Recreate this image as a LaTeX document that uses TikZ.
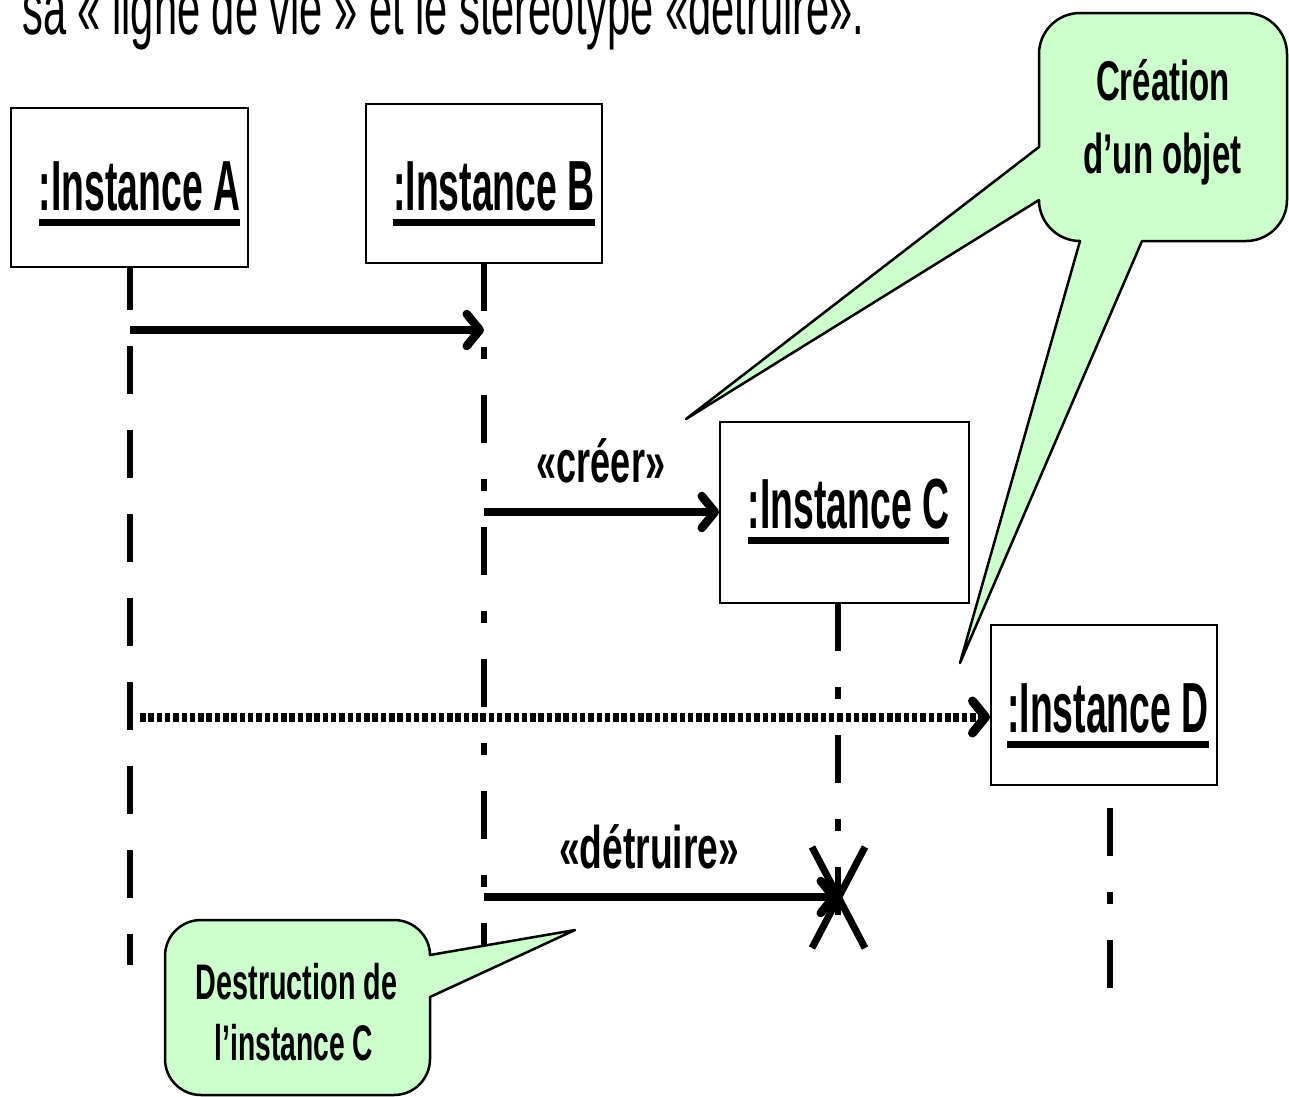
\documentclass[tikz,border=0pt]{standalone}
\usepackage{fontspec}
\setmainfont{Liberation Sans}
\usetikzlibrary{arrows.meta}
\definecolor{callg}{RGB}{204,255,204}
\newcommand\sx[2]{\scalebox{#1}[1]{#2}}
\begin{document}
\begin{tikzpicture}[x=1bp,y=-1bp,
  box/.style={draw, line width=2bp, fill=white, inner sep=0},
  lbl/.style={inner sep=0, anchor=base},
  big/.style={font=\bfseries\fontsize{71bp}{80bp}\selectfont},
  mid/.style={font=\bfseries\fontsize{60bp}{68bp}\selectfont},
  life/.style={line width=6.5bp, dash pattern=on 48bp off 36bp},
  lifedot/.style={line width=6.5bp, dash pattern=on 48bp off 36bp on 12bp off 36bp},
  msg/.style={line width=8.5bp, -{Straight Barb[length=13bp,width=32bp,round]}},
  dotmsg/.style={line width=9bp, dash pattern=on 5.5bp off 2.8bp, -{Straight Barb[length=13bp,width=32bp,round]}},
  ul/.style={line width=7bp},
  callout/.style={draw, line width=2.5bp, fill=callg, line join=round}]
\clip (0,0) rectangle (1289,1097);
\fill[white] (0,0) rectangle (1289,1097);

% title (cut off at the top, as in the reference)
\node[inner sep=0, anchor=base west, font=\fontsize{75bp}{82bp}\selectfont] (title) at (22,34)
  {\sx{0.555}{sa « ligne de vie » et le stéréotype «détruire».}};

% lifelines
\coordinate (lA0) at (130,262); \coordinate (lA1) at (130,965);
\coordinate (lB0) at (484,263); \coordinate (lB1) at (484,945);
\coordinate (lC0) at (838,603); \coordinate (lC1) at (838,915);
\coordinate (lD0) at (1110,808); \coordinate (lD1) at (1110,988);
\draw[life] (lA0) -- (lA1);
\draw[lifedot] (lB0) -- (lB1);
\draw[lifedot] (lC0) -- (lC1);
\draw[lifedot] (lD0) -- (lD1);

% boxes
\node[box, minimum width=236bp, minimum height=159bp] (A) at (129.5,187.5) {};
\node[box, minimum width=236bp, minimum height=159bp] (B) at (484,183.5) {};
\node[box, minimum width=249bp, minimum height=181bp] (C) at (844.5,512.5) {};
\node[box, minimum width=226bp, minimum height=160bp] (D) at (1104,705) {};

\node[lbl, big] (tA) at (139.5,210) {\sx{0.526}{:Instance A}};
\node[lbl, big] (tB) at (494,210) {\sx{0.526}{:Instance B}};
\node[lbl, big] (tC) at (848.5,528) {\sx{0.526}{:Instance C}};
\node[lbl, big] (tD) at (1108,732) {\sx{0.526}{:Instance D}};
\foreach \t in {tA,tB,tC,tD}
  \draw[ul] ([yshift=-12bp]\t.base west) -- ([yshift=-12bp]\t.base east);

% messages
\coordinate (m1) at (130,330);
\draw[msg] (m1) -- (m1 -| lB0);
\coordinate (m2) at (484,512);
\draw[msg] (m2) -- (m2 -| C.west);
\node[lbl, mid] (lcreer) at (601,482) {\sx{0.60}{«créer»}};
\coordinate (m3) at (140,717);
\draw[dotmsg] (m3) -- (m3 -| D.west);
\coordinate (m4) at (484,897);
\coordinate (xc) at (838,897);
\draw[msg] (m4) -- (xc);
\node[lbl, mid] (ldetr) at (649,868) {\sx{0.62}{«détruire»}};
% destruction cross
\draw[line width=7bp] ([shift={(-26,-50)}]xc) -- ([shift={(27,51)}]xc);
\draw[line width=7bp] ([shift={(27,-50)}]xc) -- ([shift={(-26,51)}]xc);

% callout: creation
\draw[callout] (1080,13) -- (1246,13)
  .. controls (1268.6,13) and (1287,31.4) .. (1287,54) -- (1287,200)
  .. controls (1287,222.6) and (1268.6,241) .. (1246,241) -- (1142,241)
  -- (960,663) -- (1080,241)
  .. controls (1057.4,241) and (1039,222.6) .. (1039,200)
  -- (686,419) -- (1039,147) -- (1039,54)
  .. controls (1039,31.4) and (1057.4,13) .. (1080,13) -- cycle;
\node[lbl, font=\bfseries\fontsize{56bp}{62bp}\selectfont] (cr1) at (1163,100) {\sx{0.59}{Création}};
\node[lbl, font=\bfseries\fontsize{56bp}{62bp}\selectfont] (cr2) at (1162.5,173) {\sx{0.59}{d’un objet}};

% callout: destruction
\draw[callout] (201,920) -- (394,920)
  .. controls (413.9,920) and (430,936.1) .. (430,955)
  -- (575,930) -- (430,997) -- (430,1059)
  .. controls (430,1078.9) and (413.9,1095) .. (394,1095) -- (201,1095)
  .. controls (181.1,1095) and (165,1078.9) .. (165,1059) -- (165,956)
  .. controls (165,936.1) and (181.1,920) .. (201,920) -- cycle;
\node[lbl, font=\bfseries\fontsize{50bp}{56bp}\selectfont] (de1) at (296.5,999) {\sx{0.575}{Destruction de}};
\node[lbl, font=\bfseries\fontsize{50bp}{56bp}\selectfont] (de2) at (294,1060) {\sx{0.565}{l’instance C}};
\end{tikzpicture}
\end{document}
